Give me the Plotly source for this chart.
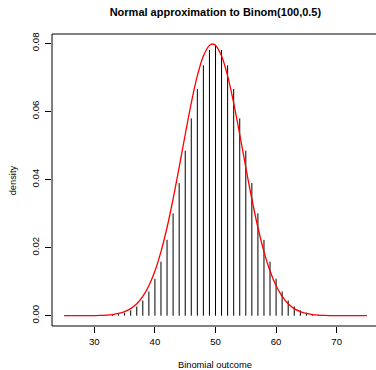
import plotly.graph_objects as go

# Binomial outcomes and their probabilities, Binom(100, 0.5)
outcomes = list(range(25, 76))
binom_prob = [
    0.0000002, 0.0000006, 0.0000015, 0.0000039, 0.0000098,  # 25-29
    0.0000232, 0.0000523, 0.0001128, 0.0002325, 0.0004581,  # 30-34
    0.0008638, 0.0015597, 0.0026979, 0.0044729, 0.0071108,  # 35-39
    0.0108439, 0.0158691, 0.0222923, 0.0300686, 0.0389525,  # 40-44
    0.0484743, 0.0579584, 0.0665720, 0.0735270, 0.0780287,  # 45-49
    0.0795892,                                              # 50
    0.0780287, 0.0735270, 0.0665720, 0.0579584, 0.0484743,  # 51-55
    0.0389525, 0.0300686, 0.0222923, 0.0158691, 0.0108439,  # 56-60
    0.0071108, 0.0044729, 0.0026979, 0.0015597, 0.0008638,  # 61-65
    0.0004581, 0.0002325, 0.0001128, 0.0000523, 0.0000232,  # 66-70
    0.0000098, 0.0000039, 0.0000015, 0.0000006, 0.0000002,  # 71-75
]

# Normal density curve (mean 49.5, sd 5)
curve_x = list(range(25, 50)) + [49.5] + list(range(50, 76))
curve_y = [
    0.0000005, 0.0000013, 0.0000032, 0.0000077, 0.0000179,  # 25-29
    0.000040, 0.000085, 0.000175, 0.000345, 0.000653,       # 30-34
    0.001190, 0.002084, 0.003506, 0.005665, 0.008797,       # 35-39
    0.013123, 0.018810, 0.025904, 0.034274, 0.043571,       # 40-44
    0.053217, 0.062451, 0.070413, 0.076278, 0.079391,       # 45-49
    0.079788,                                               # 49.5
    0.079391, 0.076278, 0.070413, 0.062451, 0.053217,       # 50-54
    0.043571, 0.034274, 0.025904, 0.018810, 0.013123,       # 55-59
    0.008797, 0.005665, 0.003506, 0.002084, 0.001190,       # 60-64
    0.000653, 0.000345, 0.000175, 0.000085, 0.000040,       # 65-69
    0.0000179, 0.0000077, 0.0000032, 0.0000013, 0.0000005,  # 70-74
    0.0000002,                                              # 75
]

x_ticks = [30, 40, 50, 60, 70]
y_ticks = [0.00, 0.02, 0.04, 0.06, 0.08]
y_tick_text = ["0.00", "0.02", "0.04", "0.06", "0.08"]

# Spike lines (type="h" style): one vertical segment per outcome
spike_x, spike_y = [], []
for k, p in zip(outcomes, binom_prob):
    spike_x += [k, k, None]
    spike_y += [0, p, None]

FONT = "Liberation Sans, Arial, Helvetica, sans-serif"

fig = go.Figure()
fig.add_trace(go.Scatter(
    x=spike_x, y=spike_y, mode="lines",
    line=dict(color="black", width=1), hoverinfo="skip", showlegend=False,
))
fig.add_trace(go.Scatter(
    x=curve_x, y=curve_y, mode="lines", line_shape="spline",
    line=dict(color="#ff0000", width=1.3), showlegend=False,
))

L, R, T, B = 52, 0, 34, 44
W, H = 376, 370
pw = W - L - R
ph = H - T - B

fig.update_layout(
    width=W, height=H,
    margin=dict(l=L, r=R, t=T, b=B),
    paper_bgcolor="white", plot_bgcolor="white",
    font=dict(family=FONT, color="black", size=9.6),
    title=dict(
        text="<b>Normal approximation to Binom(100,0.5)</b>",
        x=215.4 / W, xref="container", xanchor="center",
        y=1 - 12.5 / H, yref="container", yanchor="middle",
        font=dict(family=FONT, size=11, color="black"),
    ),
    xaxis=dict(
        range=[23.01, 23.01 + pw / 6.058],
        tickvals=x_ticks, ticks="outside", ticklen=6, tickwidth=1,
        tickcolor="black", showgrid=False, zeroline=False, showline=False,
        tickfont=dict(size=9.6),
    ),
    yaxis=dict(
        range=[-0.00302, 0.08273],
        tickvals=y_ticks, ticktext=y_tick_text, tickangle=-90,
        ticks="outside", ticklen=6, tickwidth=1, tickcolor="black",
        ticklabelstandoff=2,
        showgrid=False, zeroline=False, showline=False,
        tickfont=dict(size=9.6),
    ),
    annotations=[
        dict(text="Binomial outcome", xref="paper", yref="paper",
             x=(215.3 - L) / pw, y=-(365.3 - (T + ph)) / ph,
             xanchor="center", yanchor="middle", showarrow=False,
             font=dict(size=9.3)),
        dict(text="density", xref="paper", yref="paper",
             x=(13.3 - L) / pw, y=0.5, textangle=-90,
             xanchor="center", yanchor="middle", showarrow=False,
             font=dict(size=9.3)),
    ],
    shapes=[
        # plot box: left, bottom and top edges (right edge lies past the page)
        dict(type="line", xref="paper", yref="paper", x0=0, x1=0, y0=0, y1=1,
             line=dict(color="black", width=1)),
        dict(type="line", xref="paper", yref="paper", x0=0, x1=1.05, y0=0, y1=0,
             line=dict(color="black", width=1)),
        dict(type="line", xref="paper", yref="paper", x0=0, x1=1.05, y0=1, y1=1,
             line=dict(color="black", width=1)),
    ],
)

fig.write_html("out.html")
